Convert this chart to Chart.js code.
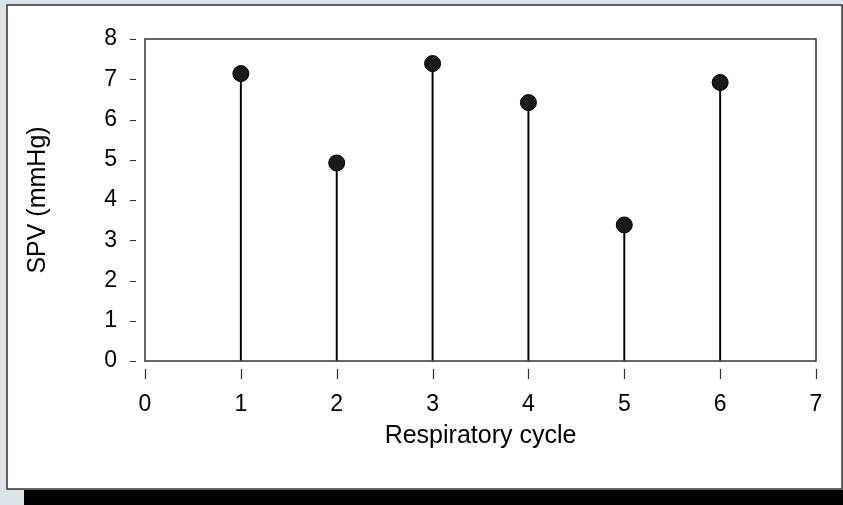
<!DOCTYPE html>
<html>
<head>
<meta charset="utf-8">
<script src="https://cdn.jsdelivr.net/npm/chart.js@4.4.1/dist/chart.umd.min.js"></script>
<style>
  html, body { margin: 0; padding: 0; background: #d9e3e8; }
  #wrap { width: 843px; height: 505px; position: relative; }
</style>
</head>
<body>
<div id="wrap"><canvas id="spvChart" width="843" height="505"></canvas></div>
<script>
// respiratory cycles and SPV readings
const cycles = [1, 2, 3, 4, 5, 6];
const spvValues = [7.14, 4.92, 7.39, 6.42, 3.38, 6.92];
const xTicks = [0, 1, 2, 3, 4, 5, 6, 7];
const yTicks = [0, 1, 2, 3, 4, 5, 6, 7, 8];

const points = cycles.map((c, i) => ({ x: c, y: spvValues[i] }));
const fontFamily = 'Arial, "Liberation Sans", sans-serif';
const tickFont = { family: fontFamily, size: 23 };
const titleFont = { family: fontFamily, size: 25 };

// gray page, white panel with black drop shadow, plot box and detached tick marks
const frame = {
  id: 'frame',
  beforeDraw(chart) {
    const ctx = chart.ctx;
    ctx.save();
    ctx.fillStyle = '#d9e3e8';
    ctx.fillRect(0, 0, chart.width, chart.height);
    ctx.fillStyle = '#000';
    ctx.fillRect(24, 490, chart.width - 24, 15);
    ctx.fillStyle = '#fff';
    ctx.fillRect(7, 5, 835, 484);
    ctx.strokeStyle = '#333';
    ctx.lineWidth = 1.5;
    ctx.strokeRect(7, 5, 835, 484);
    ctx.restore();
  },
  afterDatasetsDraw(chart) {
    const a = chart.chartArea;
    const ctx = chart.ctx;
    const xs = chart.scales.x, ys = chart.scales.y;
    ctx.save();
    ctx.strokeStyle = '#333';
    ctx.lineWidth = 1.5;
    ctx.strokeRect(a.left, a.top, a.right - a.left, a.bottom - a.top);
    ctx.beginPath();
    xs.ticks.forEach((t, i) => {
      const px = Math.round(xs.getPixelForTick(i)) + 0.5;
      ctx.moveTo(px, a.bottom + 8);
      ctx.lineTo(px, a.bottom + 18);
    });
    ys.ticks.forEach((t, i) => {
      const py = Math.round(ys.getPixelForTick(i)) + 0.5;
      ctx.moveTo(a.left - 15, py);
      ctx.lineTo(a.left - 9, py);
    });
    ctx.lineWidth = 1.2;
    ctx.stroke();
    ctx.restore();
  }
};

new Chart(document.getElementById('spvChart').getContext('2d'), {
  type: 'scatter',
  data: {
    datasets: [
      {
        type: 'scatter',
        data: points,
        order: 1,
        pointRadius: 8,
        pointHoverRadius: 8,
        pointBackgroundColor: '#1a1a1a',
        pointBorderColor: '#000',
        pointBorderWidth: 1
      },
      {
        type: 'bar',
        data: points,
        order: 2,
        barThickness: 1.3,
        backgroundColor: '#000',
        borderWidth: 0
      }
    ]
  },
  options: {
    responsive: false,
    animation: false,
    events: [],
    layout: { padding: { left: 0, top: 39, right: 27, bottom: 0 } },
    plugins: { legend: { display: false }, tooltip: { enabled: false } },
    scales: {
      x: {
        type: 'linear',
        min: 0,
        max: 7,
        offset: false,
        afterFit(scale) { scale.height = 144; },
        afterBuildTicks(scale) { scale.ticks = xTicks.map(v => ({ value: v })); },
        border: { display: false },
        grid: { display: true, offset: false, drawOnChartArea: false, drawTicks: true, tickLength: 18, tickColor: 'rgba(0,0,0,0)' },
        ticks: { color: '#000', font: tickFont, padding: 12, maxRotation: 0 },
        title: {
          display: true,
          text: 'Respiratory cycle',
          color: '#000',
          font: titleFont,
          padding: { top: 0, bottom: 54 }
        }
      },
      y: {
        type: 'linear',
        min: 0,
        max: 8,
        afterFit(scale) { scale.width = 145; },
        afterBuildTicks(scale) { scale.ticks = yTicks.map(v => ({ value: v })); },
        border: { display: false },
        grid: { display: true, drawOnChartArea: false, drawTicks: true, tickLength: 15, tickColor: 'rgba(0,0,0,0)' },
        ticks: { color: '#000', font: tickFont, padding: 13 },
        title: {
          display: true,
          text: 'SPV (mmHg)',
          color: '#000',
          font: titleFont,
          padding: { top: 23, bottom: 0 }
        }
      }
    }
  },
  plugins: [frame]
});
</script>
</body>
</html>
